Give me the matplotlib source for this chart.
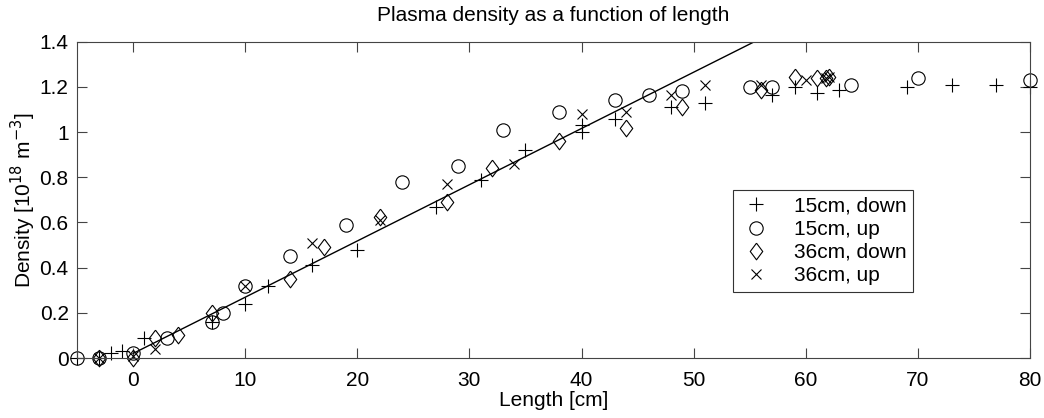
import matplotlib
matplotlib.use("Agg")
import matplotlib.pyplot as plt
import numpy as np

plt.rcParams['font.family'] = ['Liberation Sans', 'DejaVu Sans']

# 15cm, down (+)
d15_x = [-5, -3, -2, -1, 1, 7, 10, 12, 16, 20, 27, 31, 35, 40, 40, 43, 48, 51, 57, 59, 61, 63, 69, 73, 77, 80]
d15_y = [0, 0, 0.02, 0.03, 0.09, 0.16, 0.24, 0.32, 0.41, 0.48, 0.67, 0.79, 0.92, 1.0, 1.03, 1.06, 1.11, 1.13, 1.165, 1.2, 1.175, 1.185, 1.2, 1.21, 1.21, 1.2]
# 15cm, up (o)
u15_x = [-5, -3, 0, 3, 7, 8, 10, 14, 19, 24, 29, 33, 38, 43, 46, 49, 55, 57, 64, 70, 80]
u15_y = [0, 0, 0.02, 0.09, 0.16, 0.2, 0.32, 0.45, 0.59, 0.78, 0.85, 1.01, 1.09, 1.14, 1.165, 1.18, 1.2, 1.2, 1.21, 1.24, 1.23]
# 36cm, down (diamond)
d36_x = [-3, 0, 2, 4, 7, 14, 17, 22, 28, 32, 38, 44, 49, 56, 59, 61, 61.8, 62.1]
d36_y = [0, 0, 0.09, 0.1, 0.2, 0.35, 0.49, 0.625, 0.69, 0.84, 0.96, 1.02, 1.11, 1.185, 1.245, 1.24, 1.24, 1.245]
# 36cm, up (x)
u36_x = [-3, 0, 2, 10, 16, 22, 28, 34, 40, 44, 48, 51, 56, 60, 61.8, 62.1]
u36_y = [0, 0.01, 0.04, 0.32, 0.51, 0.61, 0.77, 0.86, 1.08, 1.09, 1.165, 1.21, 1.21, 1.23, 1.24, 1.245]

fit_slope = 0.0249
fit_intercept = 0.02
fit_range = [0, 60]

labels = ['15cm, down', '15cm, up', '36cm, down', '36cm, up']

FS = 15

fig = plt.figure(figsize=(10.44, 4.18), dpi=100)
ax = fig.add_axes([77/1044, 1 - 358/418, (1030-77)/1044, (358-41.7)/418])

diamond = [(0, 1), (0.75, 0), (0, -1), (-0.75, 0), (0, 1)]
lw = 0.8
kw = dict(linestyle='none', color='black', mfc='none', mec='black', mew=lw, clip_on=False)
ax.plot(d15_x, d15_y, marker='+', markersize=10, label=labels[0], **kw)
ax.plot(u15_x, u15_y, marker='o', markersize=9.6, label=labels[1], **kw)
ax.plot(d36_x, d36_y, marker=diamond, markersize=12, label=labels[2], **kw)
ax.plot(u36_x, u36_y, marker='x', markersize=7.5, label=labels[3], **kw)

fx = np.array(fit_range, dtype=float)
ax.plot(fx, fit_slope * fx + fit_intercept, color='black', linewidth=1.0)

ax.set_xlim(-5, 80)
ax.set_ylim(0, 1.4)
ax.set_xticks(np.arange(0, 81, 10))
ax.set_yticks([0, 0.2, 0.4, 0.6, 0.8, 1.0, 1.2, 1.4])
ax.set_yticklabels(['0', '0.2', '0.4', '0.6', '0.8', '1', '1.2', '1.4'])
ax.tick_params(direction='in', length=7, width=0.8, top=True, right=True,
               labelsize=FS, color='#444444')
ax.tick_params(axis='x', pad=9)
ax.tick_params(axis='y', pad=6)
for s in ax.spines.values():
    s.set_color('#444444')
    s.set_linewidth(0.8)

ax.set_title('Plasma density as a function of length', fontsize=FS, pad=15)
ax.set_xlabel('Length [cm]', fontsize=FS, labelpad=1)
ax.set_ylabel('Density [10$^{18}$ m$^{-3}$]', fontsize=FS, labelpad=1)

leg = ax.legend(loc='upper left', bbox_to_anchor=((733-77)/953, (358-190)/316.3),
                borderaxespad=0, fancybox=False, edgecolor='#333333', fontsize=FS,
                handlelength=1.6, handletextpad=1.0, labelspacing=0.2, borderpad=0.32,
                framealpha=1)
leg.get_frame().set_linewidth(0.8)

fig.savefig('out.png', dpi=100)
